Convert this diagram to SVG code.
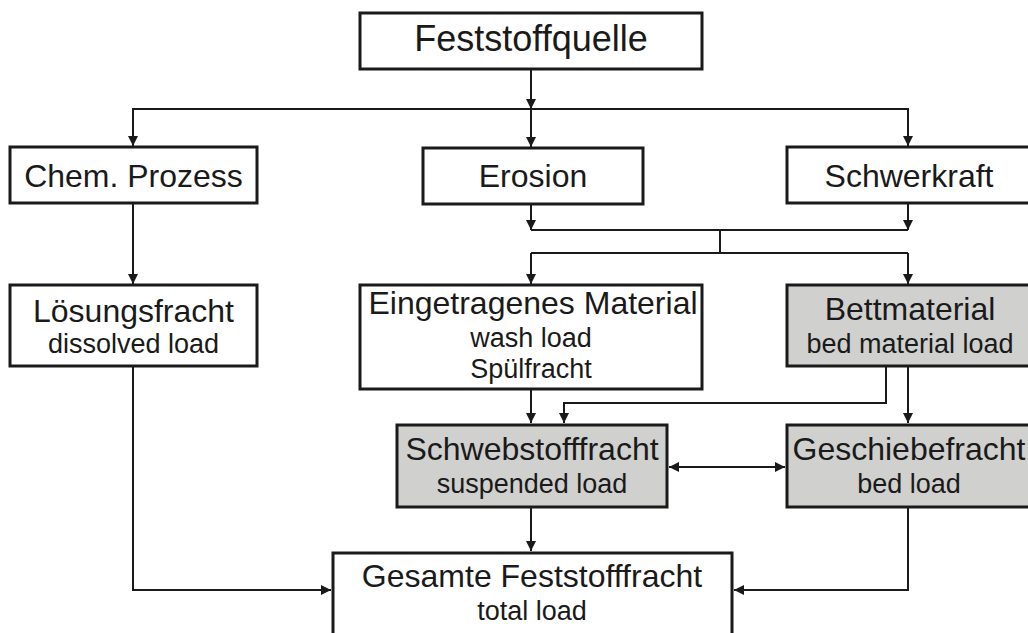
<svg xmlns="http://www.w3.org/2000/svg" width="1028" height="633" viewBox="0 0 1028 633">
<style>
.box{fill:#fff;stroke:#1a1a1a;stroke-width:3}
.gray{fill:#d0d0ce}
.t{font-family:"Liberation Sans",Arial,sans-serif;fill:#1a1a1a;text-anchor:middle}
.big{font-size:32px}
.sm{font-size:27px}
.ln{fill:none;stroke:#1a1a1a;stroke-width:2}
</style>
<defs>
<marker id="ah" viewBox="0 0 10 10" refX="10" refY="5" markerWidth="10" markerHeight="10" markerUnits="userSpaceOnUse" orient="auto-start-reverse">
<path d="M0,0 L10,5 L0,10 z" fill="#1a1a1a"/>
</marker>
</defs>
<rect width="1028" height="633" fill="#fff"/>
<g id="connectors">
<line class="ln" x1="531" y1="69" x2="531" y2="109" marker-end="url(#ah)"/>
<polyline class="ln" points="133,146 133,109 908,109 908,146"/>
<line class="ln" x1="133" y1="109" x2="133" y2="146" marker-end="url(#ah)"/>
<line class="ln" x1="908" y1="109" x2="908" y2="146" marker-end="url(#ah)"/>
<line class="ln" x1="531" y1="109" x2="531" y2="147" marker-end="url(#ah)"/>
<line class="ln" x1="133" y1="203" x2="133" y2="284" marker-end="url(#ah)"/>
<line class="ln" x1="531" y1="204" x2="531" y2="230" marker-end="url(#ah)"/>
<line class="ln" x1="908" y1="204" x2="908" y2="230" marker-end="url(#ah)"/>
<line class="ln" x1="531" y1="230" x2="908" y2="230"/>
<line class="ln" x1="720" y1="230" x2="720" y2="253"/>
<line class="ln" x1="531" y1="253" x2="908" y2="253"/>
<line class="ln" x1="531" y1="253" x2="531" y2="284" marker-end="url(#ah)"/>
<line class="ln" x1="908" y1="253" x2="908" y2="284" marker-end="url(#ah)"/>
<line class="ln" x1="531" y1="390" x2="531" y2="423" marker-end="url(#ah)"/>
<polyline class="ln" points="886,366 886,403 564,403 564,423" marker-end="url(#ah)"/>
<line class="ln" x1="908" y1="366" x2="908" y2="423" marker-end="url(#ah)"/>
<line class="ln" x1="669" y1="467" x2="785" y2="467" marker-start="url(#ah)" marker-end="url(#ah)"/>
<line class="ln" x1="531" y1="507" x2="531" y2="551" marker-end="url(#ah)"/>
<polyline class="ln" points="133,366 133,590 331,590" marker-end="url(#ah)"/>
<polyline class="ln" points="908,507 908,590 734,590" marker-end="url(#ah)"/>
</g>
<g id="feststoffquelle">
<rect class="box" x="360" y="13" width="342" height="56"/>
<text class="t" x="531" y="51" font-size="36">Feststoffquelle</text>
</g>
<g id="chem">
<rect class="box" x="10" y="147" width="247" height="56"/>
<text class="t big" x="133.5" y="187">Chem. Prozess</text>
</g>
<g id="erosion">
<rect class="box" x="423" y="148" width="220" height="56"/>
<text class="t big" x="533" y="187">Erosion</text>
</g>
<g id="schwerkraft">
<rect class="box" x="787" y="147" width="250" height="56"/>
<text class="t big" x="909" y="187">Schwerkraft</text>
</g>
<g id="loesungsfracht">
<rect class="box" x="10" y="285" width="247" height="81"/>
<text class="t big" x="133.5" y="322">Lösungsfracht</text>
<text class="t sm" x="133.5" y="353">dissolved load</text>
</g>
<g id="eingetragenes">
<rect class="box" x="360" y="285" width="342" height="104"/>
<text class="t big" x="533" y="314">Eingetragenes Material</text>
<text class="t sm" x="531" y="347">wash load</text>
<text class="t sm" x="531" y="378">Spülfracht</text>
</g>
<g id="bettmaterial">
<rect class="box gray" x="787" y="285" width="250" height="81"/>
<text class="t big" x="910" y="320">Bettmaterial</text>
<text class="t sm" x="910" y="353">bed material load</text>
</g>
<g id="schwebstofffracht">
<rect class="box gray" x="397" y="425" width="270" height="82"/>
<text class="t big" x="532" y="460">Schwebstofffracht</text>
<text class="t sm" x="532" y="493">suspended load</text>
</g>
<g id="geschiebefracht">
<rect class="box gray" x="787" y="425" width="250" height="82"/>
<text class="t big" x="909" y="460">Geschiebefracht</text>
<text class="t sm" x="909" y="493">bed load</text>
</g>
<g id="gesamte">
<rect class="box" x="333" y="553" width="399" height="90"/>
<text class="t big" x="532" y="587">Gesamte Feststofffracht</text>
<text class="t sm" x="532" y="620">total load</text>
</g>
</svg>
